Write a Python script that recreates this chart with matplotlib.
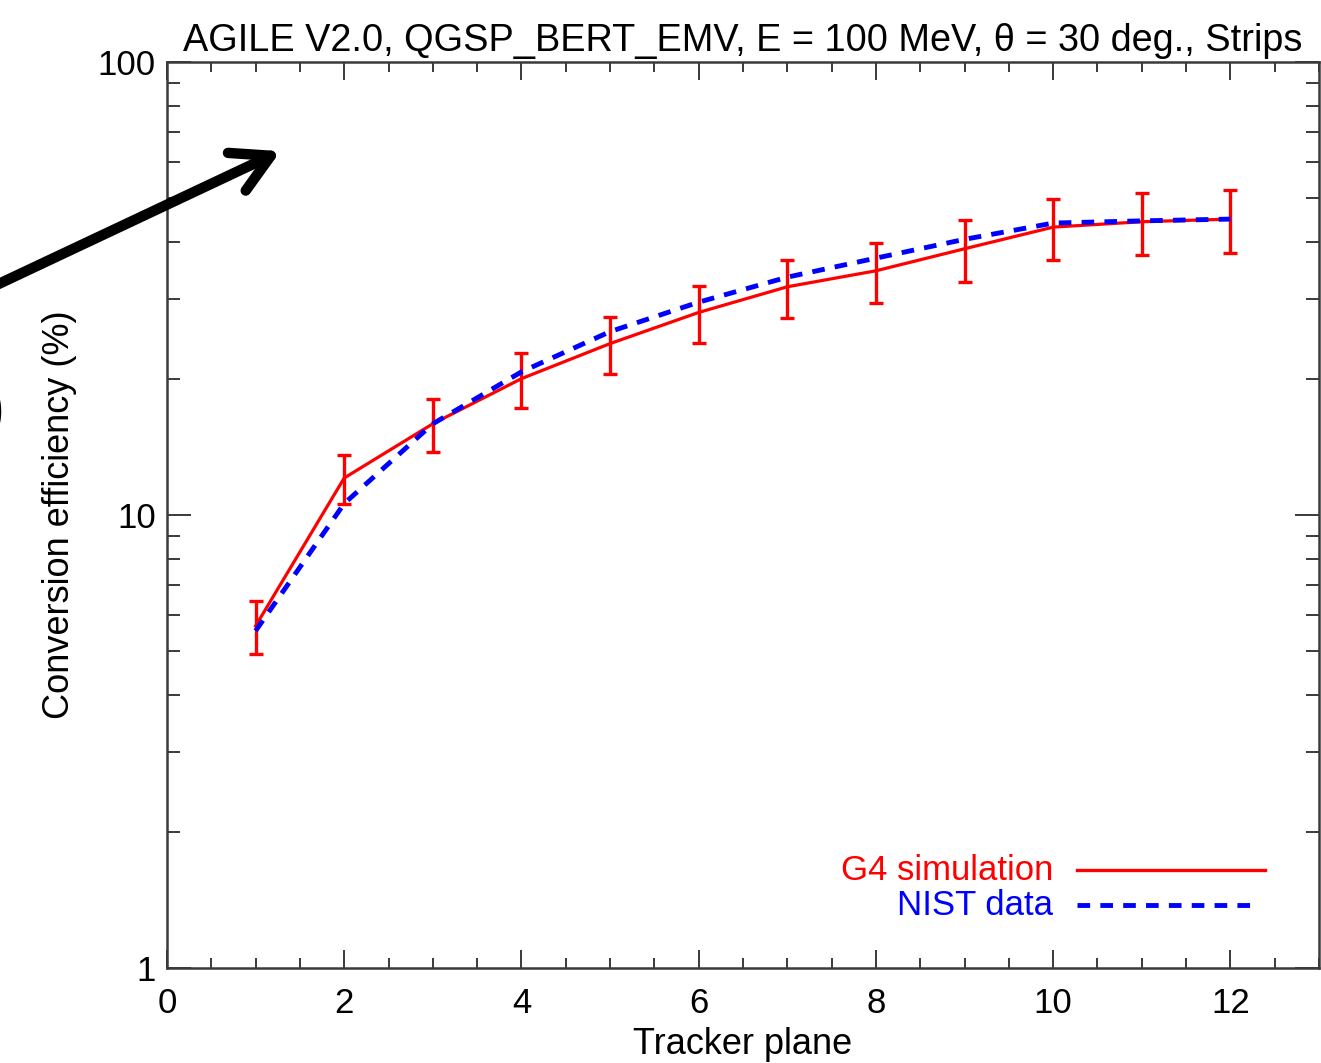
import numpy as np
import matplotlib
matplotlib.use("Agg")
import matplotlib.pyplot as plt
from matplotlib.patches import FancyArrowPatch
from matplotlib.ticker import MultipleLocator, LogLocator, NullFormatter, FixedLocator, FixedFormatter

plt.rcParams['font.family'] = ['Liberation Sans', 'DejaVu Sans']

# Data
planes = [1, 2, 3, 4, 5, 6, 7, 8, 9, 10, 11, 12]
g4_eff = [5.69, 12.07, 15.9, 20.0, 23.9, 28.0, 31.9, 34.6, 38.7, 43.2, 44.4, 45.0]
g4_err = [0.76, 1.5, 2.1, 2.8, 3.4, 4.0, 4.7, 5.2, 6.0, 6.6, 7.0, 7.2]
nist_eff = [5.55, 10.6, 15.9, 20.7, 25.4, 29.5, 33.5, 36.9, 40.6, 44.1, 44.6, 45.0]

title = "AGILE V2.0, QGSP_BERT_EMV, E = 100 MeV, \u03b8 = 30 deg., Strips"
xlabel = "Tracker plane"
ylabel = "Conversion efficiency (%)"
legend_labels = ["G4 simulation", "NIST data"]

W, H = 1321, 1063
fig = plt.figure(figsize=(W / 100, H / 100), dpi=100)
ax = fig.add_axes([167 / W, 1 - 968 / H, (1319 - 167) / W, (968 - 62) / H])

dash = (0, (2.6, 2.1))

# Curves
ax.plot(planes, nist_eff, color="blue", linestyle=dash, linewidth=3.5, zorder=3)
ax.errorbar(planes, g4_eff, yerr=g4_err, color="red", linewidth=2.3,
            elinewidth=2.4, capsize=5, capthick=2.4, zorder=2)

ax.set_xlim(0, 13)
ax.set_ylim(1, 100)
ax.set_yscale("log")

# Ticks
ax.xaxis.set_major_locator(FixedLocator([0, 2, 4, 6, 8, 10, 12]))
ax.xaxis.set_minor_locator(MultipleLocator(0.5))
ax.yaxis.set_major_locator(FixedLocator([1, 10, 100]))
ax.yaxis.set_major_formatter(FixedFormatter(["1", "10", "100"]))
ax.yaxis.set_minor_locator(LogLocator(base=10, subs=np.arange(2, 10)))
ax.yaxis.set_minor_formatter(NullFormatter())

tick_col = "#3a3a3a"
ax.tick_params(axis="both", which="both", direction="in", top=True, right=True,
               color=tick_col, width=1.4, labelsize=25)
ax.tick_params(axis="x", which="major", length=13, pad=14)
ax.tick_params(axis="x", which="minor", length=7)
ax.tick_params(axis="y", which="major", length=17, pad=8)
ax.tick_params(axis="y", which="minor", length=9.5)
for s in ax.spines.values():
    s.set_color(tick_col)
    s.set_linewidth(1.8)

ax.set_title(title, fontsize=27.3, pad=8)
ax.set_xlabel(xlabel, fontsize=26, labelpad=5)
ax.set_ylabel(ylabel, fontsize=26, labelpad=15)

# Hand-drawn style legend, text on the left, line sample on the right
ax.text(0.769, 0.108, legend_labels[0], color="red", fontsize=25,
        ha="right", va="center", transform=ax.transAxes)
ax.text(0.769, 0.069, legend_labels[1], color="blue", fontsize=25,
        ha="right", va="center", transform=ax.transAxes)
ax.plot([0.790, 0.953], [0.108, 0.108], color="red", linewidth=2.4,
        transform=ax.transAxes)
ax.plot([0.790, 0.946], [0.069, 0.069], color="blue", linewidth=3.5,
        linestyle=dash, transform=ax.transAxes)

# Big black arrow pasted over the figure
arrow = FancyArrowPatch((-12 / W, 1 - 289 / H), (283 / W, 1 - 150 / H),
                        transform=fig.transFigure, arrowstyle="->, head_length=27, head_width=15",
                        mutation_scale=1, linewidth=7.5, color="black",
                        capstyle="round", joinstyle="round")
fig.patches.append(arrow)
fig.text(-16 / W, 1 - 412 / H, ")", fontsize=44, color="black", va="center", ha="left",
         fontweight="bold")

fig.savefig("out.png", dpi=100)
